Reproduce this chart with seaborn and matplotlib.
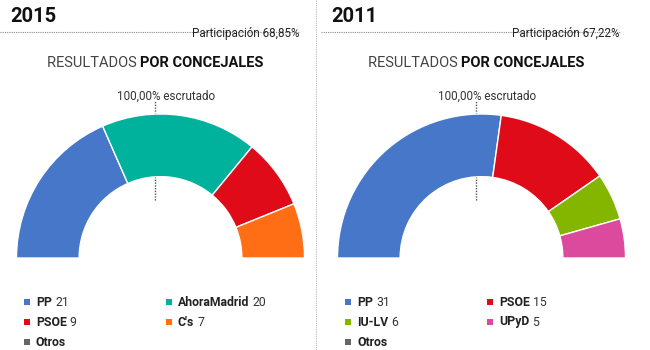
import matplotlib
matplotlib.use("Agg")
import matplotlib.pyplot as plt
import seaborn as sns
import numpy as np
from matplotlib.patches import Rectangle
from matplotlib.lines import Line2D

sns.set_theme(style="white")
plt.rcParams['font.family'] = ['Roboto', 'DejaVu Sans']

# ---- data ----
years = ["2015", "2011"]
participation = ["Participación 68,85%", "Participación 67,22%"]
scrutiny = ["100,00% escrutado", "100,00% escrutado"]
parties_2015 = ["PP", "AhoraMadrid", "PSOE", "C's", "Otros"]
seats_2015 = [21, 20, 9, 7, 0]
colors_2015 = ["#4677C8", "#00B29B", "#E00B18", "#FF6D14", "#666666"]
parties_2011 = ["PP", "PSOE", "IU-LV", "UPyD", "Otros"]
seats_2011 = [31, 15, 6, 5, 0]
colors_2011 = ["#4677C8", "#E00B18", "#84B600", "#DC4A9D", "#666666"]

panels = [
    (parties_2015, seats_2015, colors_2015),
    (parties_2011, seats_2011, colors_2011),
]

W, H = 650, 350
fig = plt.figure(figsize=(6.5, 3.5), dpi=100)
fig.patch.set_facecolor("white")

def fx(px):
    return px / W

def fy(py):
    return 1 - py / H

offsets = [0, 321]
centers = [160.5, 481.5]
R = 144.0
base_y = 258.0
inner = 0.565

for i, (parties, seats, colors) in enumerate(panels):
    off = offsets[i]
    cx = centers[i]
    ax = fig.add_axes([fx(cx - R), fy(base_y), 2 * R / W, R / H])
    ax.set_xlim(-1, 1)
    ax.set_ylim(0, 1)
    ax.set_axis_off()
    total = sum(seats)
    vals = [s for s in seats if s > 0] + [total]
    cols = [c for s, c in zip(seats, colors) if s > 0] + ["none"]
    wedges, _ = ax.pie(vals, colors=cols, startangle=180, counterclock=False,
                       radius=1, wedgeprops=dict(width=1 - inner, edgecolor="white", linewidth=1.0),
                       frame=False)
    wedges[-1].set_edgecolor("none")
    ax.set_xlim(-1, 1)
    ax.set_ylim(0, 1)
    ax.set_aspect("auto")
    for w in wedges:
        w.set_zorder(3)
        w.set_clip_on(False)
    lx = -5.5 / R
    ax.plot([lx, lx], [(base_y - 200) / R, (base_y - 101) / R], color="#555555",
            linestyle=(0, (1, 1)), linewidth=1.0, zorder=1, clip_on=False)

    # title
    fig.text(fx(off + 10), fy(16), years[i], fontsize=14.5, fontweight="bold",
             color="#111111", ha="left", va="center")
    # dotted rule
    fig.add_artist(Line2D([fx(off + 0), fx(off + 300)], [fy(32), fy(32)],
                          color="#888888", linestyle=(0, (1, 1)), linewidth=0.8))
    fig.text(fx(off + 299), fy(34), participation[i], fontsize=8.4, color="#222222",
             ha="right", va="center")
    # subtitle
    t1 = fig.text(fx(off + 47), fy(63), "RESULTADOS ", fontsize=10.5, fontweight="normal",
                  color="#444444", ha="left", va="center")
    fig.canvas.draw()
    bb = t1.get_window_extent()
    fig.text(bb.x1 / W, fy(63), "POR CONCEJALES", fontsize=10.5, fontweight="bold",
             color="#111111", ha="left", va="center")
    fig.text(fx(off + 166), fy(96), scrutiny[i], fontsize=8.4, color="#333333",
             ha="center", va="center")

    # legend
    col_x = [off + 27, off + 169]
    row_y = [302, 322, 342]
    for k, (p, s, c) in enumerate(zip(parties, seats, colors)):
        if p == "Otros":
            x0, y0 = col_x[0], row_y[2]
        else:
            x0, y0 = col_x[k % 2], row_y[k // 2]
        fig.add_artist(Rectangle((fx(x0 - 3), fy(y0 + 3)), 6 / W, 6 / H,
                                 facecolor=c, edgecolor="none", transform=fig.transFigure))
        tb = fig.text(fx(x0 + 9), fy(y0), p, fontsize=8.8, fontweight="bold",
                      color="#222222", ha="left", va="center")
        if p != "Otros":
            fig.canvas.draw()
            b = tb.get_window_extent()
            fig.text((b.x1 + 3) / W, fy(y0), str(s), fontsize=8.8, color="#333333",
                     ha="left", va="center")

# vertical dotted separator
fig.add_artist(Line2D([fx(316), fx(316)], [0, 1], color="#bbbbbb",
                      linestyle=(0, (1, 1)), linewidth=0.8))

fig.savefig("out.png", dpi=100, facecolor="white")
